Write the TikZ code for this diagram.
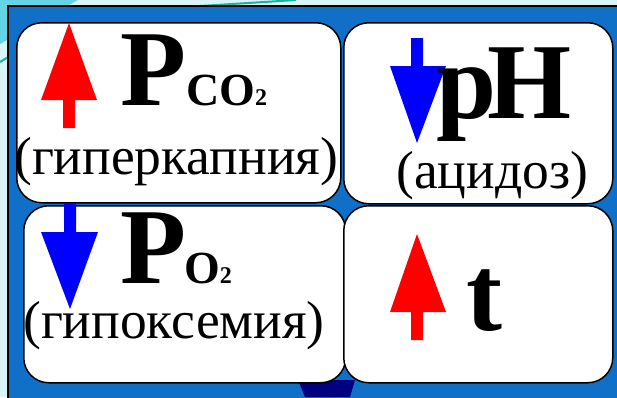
\documentclass[tikz,border=0pt]{standalone}
\usepackage{fontspec}
\setmainfont{Liberation Serif}
\usepackage{tikz}
\definecolor{panelblue}{HTML}{1070C8}
\definecolor{bgcyan}{HTML}{DAF4F8}
\definecolor{streakcyan}{HTML}{63D4E6}
\definecolor{streakteal}{HTML}{18B4A0}
\definecolor{trapnavy}{HTML}{000080}

\begin{document}
\begin{tikzpicture}[
    x=1pt, y=-1pt,
    box/.style={draw, fill=white, rounded corners=25pt, line width=1.5pt, anchor=north west, inner sep=0pt},
    big/.style={anchor=base west, inner sep=0pt, font=\fontsize{108}{108}\selectfont\bfseries},
    note/.style={anchor=base west, inner sep=0pt, font=\fontsize{53.5}{53.5}\selectfont},
    uparr/.style={fill=red},
    downarr/.style={fill=blue}
  ]
    \useasboundingbox (0,0) rectangle (617,397);
    % slide background
    \fill[bgcyan] (0,0) rectangle (617,397);
    \fill[streakcyan] (0,0) -- (78,0) -- (0,44) -- cycle;
    \draw[streakteal, line width=2pt] (0,62) -- (10,56);
    \draw[streakteal, line width=2pt] (200,6) -- (296,0);
    \fill[panelblue, draw=black, line width=2pt] (8,6) rectangle (630,410);
    \fill[trapnavy] (298,380) -- (355,380) -- (350,397) -- (305,397) -- cycle;

    % the four boxes
    \node[box, minimum width=324pt, minimum height=180pt] (b1) at (16,22) {};
    \node[box, minimum width=269pt, minimum height=181pt] (b2) at (343,22) {};
    \node[box, minimum width=322pt, minimum height=177pt] (b3) at (23,205) {};
    \node[box, minimum width=269pt, minimum height=177pt] (b4) at (343,205) {};

    % arrows
    \fill[uparr] (63,128) -- (63,100) -- (41,100) -- (69,23) -- (97,100) -- (75,100) -- (75,128) -- cycle;
    \fill[downarr] (411,38) -- (411,66) -- (390,66) -- (417,143) -- (446,66) -- (423,66) -- (423,38) -- cycle;
    \fill[downarr] (64,203) -- (64,232) -- (41,232) -- (70,309) -- (98,232) -- (76,232) -- (76,203) -- cycle;
    \fill[uparr] (411,340) -- (411,312) -- (390,312) -- (417,234) -- (446,312) -- (423,312) -- (423,340) -- cycle;

    % labels
    \node[big] (pco2) at (120,105) {P{\fontsize{46}{46}\selectfont CO}{\fontsize{24}{24}\selectfont 2}};
    \node[note] (hyper) at (14,174) {(гиперкапния)};
    \node[big] (ph) at (436,118) {p\kern-9pt H};
    \node[note] (acid) at (396,188) {(ацидоз)};
    \node[big] (po2) at (120,283) {P\kern-2pt{\fontsize{46}{46}\selectfont O}{\fontsize{24}{24}\selectfont 2}};
    \node[note] (hypox) at (23,338) {(гипоксемия)};
    \node[big] (temp) at (466,330) {t};
  \end{tikzpicture}
\end{document}
